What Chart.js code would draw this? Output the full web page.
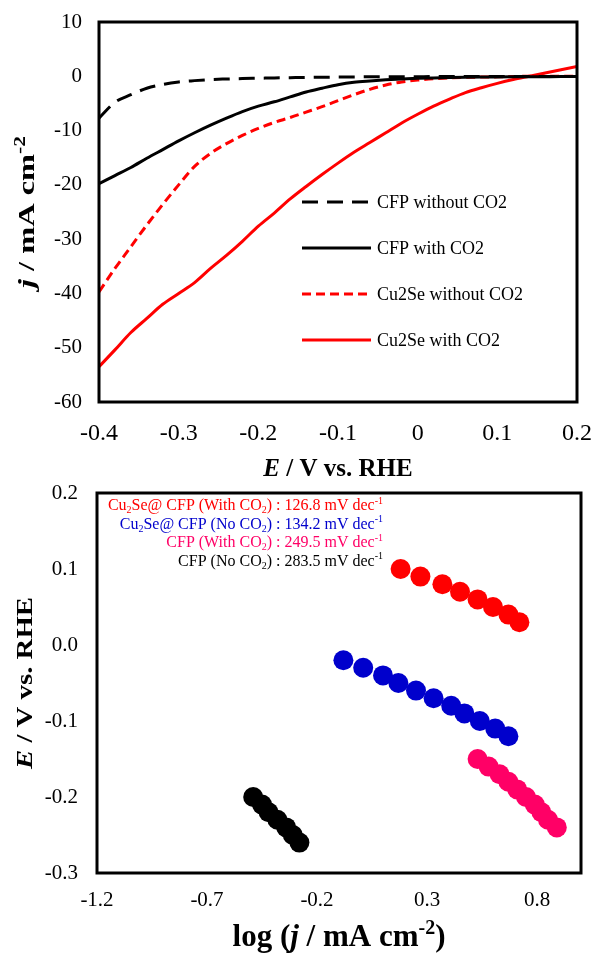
<!DOCTYPE html>
<html>
<head>
<meta charset="utf-8">
<script src="https://cdn.jsdelivr.net/npm/chart.js@4.4.0/dist/chart.umd.min.js"></script>
<style>
  html, body { margin: 0; padding: 0; background: #fff; }
  #wrap { position: relative; width: 595px; height: 953px; }
  .box { position: absolute; left: 0; width: 595px; }
  #top { top: 0; height: 480px; }
  #bot { top: 480px; height: 473px; }
</style>
</head>
<body>
<div id="wrap">
  <div class="box" id="top"><canvas id="lsvChart" width="595" height="480"></canvas></div>
  <div class="box" id="bot"><canvas id="tafelChart" width="595" height="473"></canvas></div>
</div>
<script>
// ---- LSV curves (top) : E vs RHE and current density ----
const potential = [-0.40, -0.38, -0.36, -0.34, -0.32, -0.30, -0.28, -0.26, -0.24, -0.22, -0.20,
  -0.18, -0.16, -0.14, -0.12, -0.10, -0.08, -0.06, -0.04, -0.02, 0.00,
  0.02, 0.04, 0.06, 0.08, 0.10, 0.12, 0.14, 0.16, 0.18, 0.20];
const cfpWithoutCO2 = [-7.7, -4.8, -3.4, -2.2, -1.5, -1.05, -0.8, -0.6, -0.5, -0.42, -0.36,
  -0.3, -0.25, -0.2, -0.17, -0.14, -0.12, -0.1, -0.09, -0.08, -0.07,
  -0.06, -0.05, -0.05, -0.04, -0.04, -0.03, -0.03, -0.03, -0.03, -0.03];
const cfpWithCO2 = [-19.8, -18.3, -16.8, -15.1, -13.5, -11.9, -10.4, -9.0, -7.7, -6.5, -5.5,
  -4.7, -3.8, -2.9, -2.2, -1.55, -1.1, -0.85, -0.65, -0.5, -0.38,
  -0.3, -0.24, -0.19, -0.15, -0.12, -0.1, -0.08, -0.07, -0.06, -0.06];
const cu2seWithoutCO2 = [-39.7, -35.4, -31.4, -27.4, -23.6, -20.0, -16.6, -14.2, -12.4, -10.9, -9.6,
  -8.5, -7.6, -6.6, -5.6, -4.5, -3.4, -2.4, -1.6, -1.05, -0.7,
  -0.45, -0.3, -0.2, -0.15, -0.1, -0.05, 0.0, 0.0, 0.0, 0.0];
const cu2seWithCO2 = [-53.5, -50.4, -47.2, -44.6, -42.0, -40.0, -38.0, -35.4, -33.0, -30.4, -27.6,
  -25.2, -22.6, -20.3, -18.1, -16.0, -14.0, -12.2, -10.4, -8.6, -7.0,
  -5.5, -4.2, -3.0, -2.1, -1.3, -0.6, 0.0, 0.6, 1.2, 1.8];
const lsvLabels = ['CFP without CO2', 'CFP with CO2', 'Cu2Se without CO2', 'Cu2Se with CO2'];
const lsvXTicks = [-0.4, -0.3, -0.2, -0.1, 0, 0.1, 0.2];
const lsvYTicks = [10, 0, -10, -20, -30, -40, -50, -60];

// ---- Tafel plots (bottom) : log j and E ----
const cu2seCO2LogJ = [0.18, 0.27, 0.37, 0.45, 0.53, 0.60, 0.67, 0.72];
const cu2seCO2E = [0.10, 0.09, 0.08, 0.07, 0.06, 0.05, 0.04, 0.03];
const cu2seNoCO2LogJ = [-0.08, 0.01, 0.10, 0.17, 0.25, 0.33, 0.41, 0.47, 0.54, 0.61, 0.67];
const cu2seNoCO2E = [-0.02, -0.03, -0.04, -0.05, -0.06, -0.07, -0.08, -0.09, -0.10, -0.11, -0.12];
const cfpCO2LogJ = [0.53, 0.58, 0.63, 0.67, 0.71, 0.75, 0.79, 0.82, 0.85, 0.89];
const cfpCO2E = [-0.15, -0.16, -0.17, -0.18, -0.19, -0.20, -0.21, -0.22, -0.23, -0.24];
const cfpNoCO2LogJ = [-0.49, -0.45, -0.42, -0.38, -0.34, -0.31, -0.28];
const cfpNoCO2E = [-0.20, -0.21, -0.22, -0.23, -0.24, -0.25, -0.26];
const tafelLabels = [
  'Cu_{2}Se@ CFP (With CO_{2}) : 126.8 mV dec^{-1}',
  'Cu_{2}Se@ CFP (No CO_{2}) : 134.2 mV dec^{-1}',
  'CFP (With CO_{2}) : 249.5 mV dec^{-1}',
  'CFP (No CO_{2}) : 283.5 mV dec^{-1}'
];
const tafelXTicks = [-1.2, -0.7, -0.2, 0.3, 0.8];
const tafelYTicks = [0.2, 0.1, 0.0, -0.1, -0.2, -0.3];

const SERIF = '"Liberation Serif", "Times New Roman", serif';

// tiny markup: *italic*, _{sub}, ^{sup}
function parseRich(str) {
  return str.split(/(\*[^*]+\*|_\{[^}]*\}|\^\{[^}]*\})/).filter(Boolean).map(t => {
    if (t[0] === '*') return { t: t.slice(1, -1), i: true };
    if (t.startsWith('_{')) return { t: t.slice(2, -1), s: 'sub' };
    if (t.startsWith('^{')) return { t: t.slice(2, -1), s: 'sup' };
    return { t: t };
  });
}
function segFont(seg, size, bold) {
  const sz = seg.s ? Math.round(size * 0.65) : size;
  return (seg.i ? 'italic ' : '') + (bold ? 'bold ' : '') + sz + 'px ' + SERIF;
}
function drawRich(ctx, str, x, y, size, bold, align) {
  const segs = parseRich(str);
  let w = 0;
  segs.forEach(s => { ctx.font = segFont(s, size, bold); w += ctx.measureText(s.t).width; });
  let cx = align === 'right' ? x - w : (align === 'center' ? x - w / 2 : x);
  ctx.textAlign = 'left';
  ctx.textBaseline = 'alphabetic';
  segs.forEach(s => {
    ctx.font = segFont(s, size, bold);
    const dy = s.s === 'sup' ? -size * 0.38 : (s.s === 'sub' ? size * 0.2 : 0);
    ctx.fillText(s.t, cx, y + dy);
    cx += ctx.measureText(s.t).width;
  });
}

// frame round the plot area + axis titles
const framePlugin = {
  id: 'frame',
  afterDraw(chart, args, opts) {
    const { ctx, chartArea: a } = chart;
    ctx.save();
    ctx.strokeStyle = '#000';
    ctx.lineWidth = 3;
    ctx.strokeRect(a.left, a.top, a.right - a.left, a.bottom - a.top);
    ctx.fillStyle = '#000';
    drawRich(ctx, opts.xTitle, (a.left + a.right) / 2, opts.xTitleY, opts.xSize, true, 'center');
    // y title, rotated and a bit stretched along its length
    ctx.translate(opts.yTitleX, (a.top + a.bottom) / 2);
    ctx.rotate(-Math.PI / 2);
    ctx.scale(opts.yStretch, 1);
    drawRich(ctx, opts.yTitle, 0, 0, opts.ySize, true, 'center');
    ctx.restore();
  }
};

const lsvLegend = {
  id: 'lsvLegend',
  afterDraw(chart) {
    const { ctx, chartArea: a } = chart;
    ctx.save();
    chart.data.datasets.forEach((ds, i) => {
      const y = a.top + 180 + i * 46;
      ctx.strokeStyle = ds.borderColor;
      ctx.lineWidth = 3;
      ctx.setLineDash(ds.borderDash || []);
      ctx.beginPath();
      ctx.moveTo(a.left + 203, y);
      ctx.lineTo(a.left + 272, y);
      ctx.stroke();
      ctx.setLineDash([]);
      ctx.fillStyle = '#000';
      ctx.font = '18px ' + SERIF;
      ctx.textAlign = 'left';
      ctx.textBaseline = 'middle';
      ctx.fillText(ds.label, a.left + 278, y + 1);
    });
    ctx.restore();
  }
};

const tafelNotes = {
  id: 'tafelNotes',
  afterDraw(chart) {
    const { ctx, chartArea: a } = chart;
    ctx.save();
    tafelLabels.forEach((txt, i) => {
      ctx.fillStyle = chart.data.datasets[i].backgroundColor;
      drawRich(ctx, txt, a.left + 286, a.top + 17 + i * 18.5, 16, false, 'right');
    });
    ctx.restore();
  }
};

function pts(xs, ys) { return xs.map((x, i) => ({ x: x, y: ys[i] })); }
function fixedTicks(arr) { return scale => { scale.ticks = arr.map(v => ({ value: v })); }; }
function noPad(s) { s.paddingTop = 0; s.paddingBottom = 0; s.paddingLeft = 0; s.paddingRight = 0; }

// ---------- top chart ----------
const lsvStyles = [
  { color: '#000000', dash: [16, 9] },
  { color: '#000000', dash: [] },
  { color: '#FF0000', dash: [9, 5] },
  { color: '#FF0000', dash: [] }
];
const lsvSeries = [cfpWithoutCO2, cfpWithCO2, cu2seWithoutCO2, cu2seWithCO2];

new Chart(document.getElementById('lsvChart'), {
  type: 'scatter',
  data: {
    datasets: lsvSeries.map((s, i) => ({
      label: lsvLabels[i],
      data: pts(potential, s),
      showLine: true,
      borderColor: lsvStyles[i].color,
      backgroundColor: lsvStyles[i].color,
      borderDash: lsvStyles[i].dash,
      borderWidth: 3,
      pointRadius: 0,
      cubicInterpolationMode: 'monotone'
    }))
  },
  options: {
    responsive: false,
    devicePixelRatio: 1,
    animation: false,
    events: [],
    layout: { padding: { top: 22, right: 18, left: 0, bottom: 0 } },
    plugins: {
      legend: { display: false },
      tooltip: { enabled: false },
      frame: { xTitle: '*E* / V vs. RHE', xTitleY: 476, xSize: 25, yTitle: '*j* / mA cm^{-2}', yTitleX: 34, ySize: 24, yStretch: 1.35 }
    },
    scales: {
      x: {
        type: 'linear', min: -0.4, max: 0.2,
        afterBuildTicks: fixedTicks(lsvXTicks),
        afterFit: s => { s.height = 78; noPad(s); },
        grid: { display: false, drawTicks: false },
        border: { display: false },
        ticks: { padding: 17, color: '#000', font: { family: SERIF, size: 24 },
          callback: v => String(+v.toFixed(1)) }
      },
      y: {
        type: 'linear', min: -60, max: 10,
        afterBuildTicks: fixedTicks(lsvYTicks),
        afterFit: s => { s.width = 99; noPad(s); },
        grid: { display: false, drawTicks: false },
        border: { display: false },
        ticks: { padding: 17, color: '#000', font: { family: SERIF, size: 21 },
          callback: v => String(v) }
      }
    }
  },
  plugins: [framePlugin, lsvLegend]
});

// ---------- bottom chart ----------
new Chart(document.getElementById('tafelChart'), {
  type: 'scatter',
  data: {
    datasets: [
      { label: 'Cu2Se@ CFP (With CO2)', data: pts(cu2seCO2LogJ, cu2seCO2E), backgroundColor: '#FF0000' },
      { label: 'Cu2Se@ CFP (No CO2)', data: pts(cu2seNoCO2LogJ, cu2seNoCO2E), backgroundColor: '#0000CC' },
      { label: 'CFP (With CO2)', data: pts(cfpCO2LogJ, cfpCO2E), backgroundColor: '#FF0066' },
      { label: 'CFP (No CO2)', data: pts(cfpNoCO2LogJ, cfpNoCO2E), backgroundColor: '#000000' }
    ].map(d => Object.assign(d, { pointRadius: 10, pointBorderWidth: 0, borderColor: d.backgroundColor }))
  },
  options: {
    responsive: false,
    devicePixelRatio: 1,
    animation: false,
    events: [],
    layout: { padding: { top: 13, right: 14, left: 0, bottom: 0 } },
    plugins: {
      legend: { display: false },
      tooltip: { enabled: false },
      frame: { xTitle: 'log (*j* / mA cm^{-2})', xTitleY: 466, xSize: 31, yTitle: '*E* / V vs. RHE', yTitleX: 32, ySize: 24, yStretch: 1.2 }
    },
    scales: {
      x: {
        type: 'linear', min: -1.2, max: 1.0,
        afterBuildTicks: fixedTicks(tafelXTicks),
        afterFit: s => { s.height = 80; noPad(s); },
        grid: { display: false, drawTicks: false },
        border: { display: false },
        ticks: { padding: 15, color: '#000', font: { family: SERIF, size: 21 },
          callback: v => v.toFixed(1) }
      },
      y: {
        type: 'linear', min: -0.3, max: 0.2,
        afterBuildTicks: fixedTicks(tafelYTicks),
        afterFit: s => { s.width = 97; noPad(s); },
        grid: { display: false, drawTicks: false },
        border: { display: false },
        ticks: { padding: 19, color: '#000', font: { family: SERIF, size: 21 },
          callback: v => v.toFixed(1) }
      }
    }
  },
  plugins: [framePlugin, tafelNotes]
});
</script>
</body>
</html>
